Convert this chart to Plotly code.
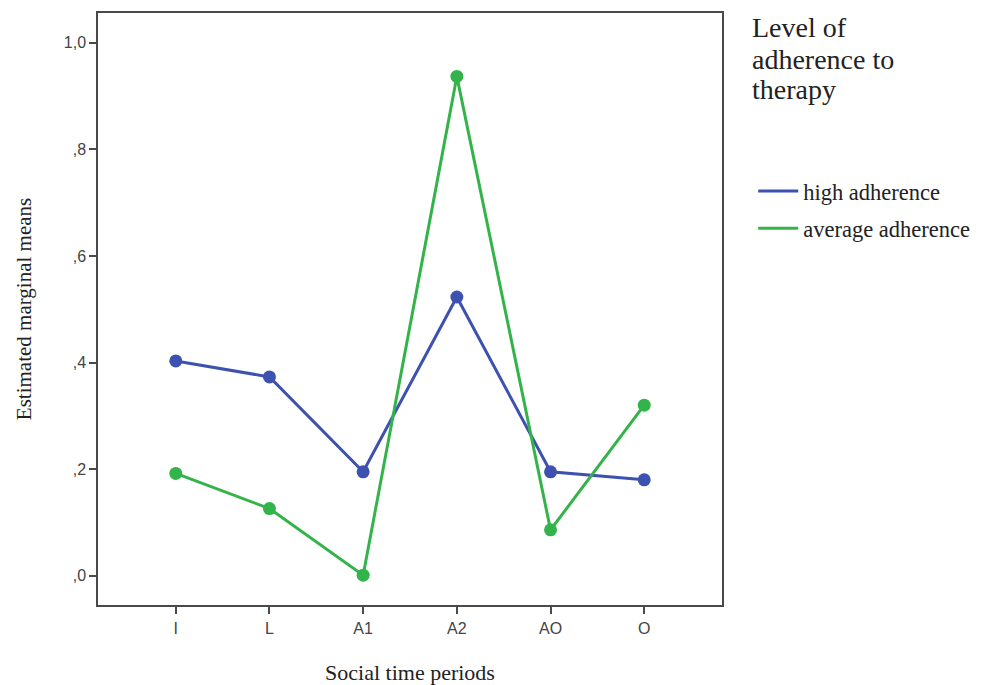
import plotly.graph_objects as go

periods = ["I", "L", "A1", "A2", "AO", "O"]
high_adherence = [0.403, 0.373, 0.195, 0.523, 0.195, 0.180]
average_adherence = [0.192, 0.126, 0.001, 0.937, 0.086, 0.320]
y_tick_vals = [0.0, 0.2, 0.4, 0.6, 0.8, 1.0]
y_tick_text = [",0", ",2", ",4", ",6", ",8", "1,0"]
legend_title_lines = ["Level of", "adherence to", "therapy"]

BLUE = "#3D51B0"
GREEN = "#33B44A"
SERIF = "Liberation Serif, Times New Roman, serif"
SANS = "Liberation Sans, Arial, sans-serif"

fig = go.Figure()
for name, vals, col, grp in [("high adherence", high_adherence, BLUE, "g1"),
                             ("average adherence", average_adherence, GREEN, "g2")]:
    fig.add_trace(go.Scatter(x=periods, y=vals, mode="lines+markers",
                             line=dict(color=col, width=3),
                             marker=dict(color=col, size=13),
                             showlegend=False, hoverinfo="x+y"))
    fig.add_trace(go.Scatter(x=[None], y=[None], mode="lines", name=name,
                             line=dict(color=col, width=3), legendgroup=grp,
                             showlegend=True))

PLOT_TOP, PLOT_H = 13, 592
annotations = []
for i, line in enumerate(legend_title_lines):
    py = 28 + 31 * i
    annotations.append(dict(text=line, xref="paper", yref="paper",
                            x=1.045, y=1 - (py - PLOT_TOP) / PLOT_H,
                            xanchor="left", yanchor="middle", align="left",
                            showarrow=False,
                            font=dict(family=SERIF, size=28, color="#222")))

fig.update_layout(
    width=989, height=685,
    margin=dict(l=98, r=267, t=13, b=80),
    paper_bgcolor="white", plot_bgcolor="white",
    showlegend=True,
    legend=dict(x=1.05, xanchor="left", y=0.735, yanchor="top",
                font=dict(family=SERIF, size=22.5, color="#222"),
                traceorder="grouped", tracegroupgap=5,
                itemwidth=40, bgcolor="rgba(0,0,0,0)"),
    xaxis=dict(type="category", range=[-0.83, 5.83], automargin=False,
               showline=True, mirror=True, linecolor="#4a4a4a", linewidth=1.5,
               ticks="outside", ticklen=7, tickcolor="#4a4a4a", tickwidth=1.5,
               ticklabelstandoff=1,
               showgrid=False, zeroline=False,
               tickfont=dict(family=SANS, size=16, color="#444"),
               title=dict(text="Social time periods",
                          font=dict(family=SERIF, size=22, color="#222"),
                          standoff=33)),
    yaxis=dict(range=[-0.055, 1.056], tickvals=y_tick_vals, ticktext=y_tick_text,
               automargin=False,
               showline=True, mirror=True, linecolor="#4a4a4a", linewidth=1.5,
               ticks="outside", ticklen=7, tickcolor="#4a4a4a", tickwidth=1.5,
               showgrid=False, zeroline=False,
               tickfont=dict(family=SANS, size=16, color="#444"),
               title=dict(text="Estimated marginal means",
                          font=dict(family=SERIF, size=21, color="#222"),
                          standoff=26)),
    annotations=annotations,
)

fig.write_html("out.html")
